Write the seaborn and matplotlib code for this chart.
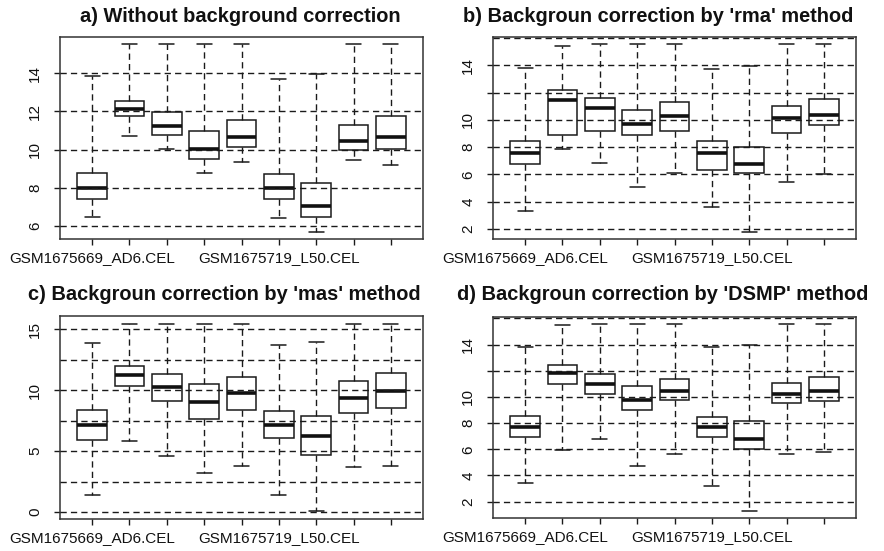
import numpy as np
import pandas as pd
import matplotlib
matplotlib.use("Agg")
import matplotlib.pyplot as plt
import seaborn as sns

# ---------------- data ----------------
samples = [f"S{i}" for i in range(1, 10)]
tick_labels = ["GSM1675669_AD6.CEL", "", "", "", "", "GSM1675719_L50.CEL", "", "", ""]

titles = ["a) Without background correction",
          "b) Backgroun correction by 'rma' method",
          "c) Backgroun correction by 'mas' method",
          "d) Backgroun correction by 'DSMP' method"]

# panel a: whisker low, Q1, median, Q3, whisker high
a_lo = [6.50, 10.71, 10.03, 8.78, 9.37, 6.45, 5.72, 9.43, 9.17]
a_q1 = [7.44, 11.74, 10.78, 9.53, 10.14, 7.44, 6.47, 10.00, 10.05]
a_med = [7.97, 12.12, 11.23, 10.03, 10.68, 7.97, 7.07, 10.45, 10.68]
a_q3 = [8.78, 12.56, 11.95, 10.99, 11.57, 8.70, 8.27, 11.27, 11.77]
a_hi = [13.86, 15.49, 15.49, 15.49, 15.49, 13.70, 13.93, 15.49, 15.49]

# panel b
b_lo = [3.31, 7.84, 6.82, 5.07, 6.11, 3.61, 1.80, 5.46, 6.04]
b_q1 = [6.72, 8.86, 9.20, 8.86, 9.20, 6.33, 6.06, 9.03, 9.59]
b_med = [7.60, 11.49, 10.88, 9.67, 10.30, 7.55, 6.75, 10.13, 10.37]
b_q3 = [8.45, 12.22, 11.61, 10.74, 11.30, 8.43, 8.04, 11.01, 11.52]
b_hi = [13.83, 15.39, 15.53, 15.53, 15.53, 13.71, 13.95, 15.53, 15.53]

# panel c
c_lo = [1.37, 5.85, 4.59, 3.22, 3.80, 1.37, 0.05, 3.69, 3.74]
c_q1 = [5.93, 10.33, 9.10, 7.62, 8.36, 6.09, 4.70, 8.09, 8.50]
c_med = [7.16, 11.20, 10.25, 9.04, 9.73, 7.16, 6.20, 9.34, 9.92]
c_q3 = [8.36, 11.94, 11.34, 10.52, 11.04, 8.28, 7.90, 10.74, 11.39]
c_hi = [13.82, 15.45, 15.45, 15.45, 15.45, 13.66, 13.91, 15.45, 15.45]

# panel d
d_lo = [3.41, 5.96, 6.77, 4.75, 5.61, 3.16, 1.32, 5.66, 5.83]
d_q1 = [6.94, 11.00, 10.19, 9.01, 9.77, 6.94, 6.06, 9.51, 9.69]
d_med = [7.67, 11.81, 10.97, 9.74, 10.45, 7.67, 6.82, 10.19, 10.45]
d_q3 = [8.55, 12.41, 11.73, 10.80, 11.38, 8.50, 8.13, 11.03, 11.55]
d_hi = [13.85, 15.49, 15.54, 15.54, 15.54, 13.80, 13.95, 15.54, 15.54]

grid_a = [6, 8, 10, 12, 14]
grid_b = [2, 4, 6, 8, 10, 12, 14, 16]
grid_c = [0, 2.5, 5, 7.5, 10, 12.5, 15]
grid_d = [2, 4, 6, 8, 10, 12, 14, 16]

ticks_a = [6, 8, 10, 12, 14]
ticklab_a = ["6", "8", "10", "12", "14"]
ticks_b = [2, 4, 6, 8, 10, 12, 14]
ticklab_b = ["2", "4", "6", "8", "10", "", "14"]
ticks_c = [0, 5, 10, 15]
ticklab_c = ["0", "5", "10", "15"]
ticks_d = [2, 4, 6, 8, 10, 12, 14]
ticklab_d = ["2", "4", "6", "8", "10", "", "14"]

panels = [
    (a_lo, a_q1, a_med, a_q3, a_hi, grid_a, ticks_a, ticklab_a),
    (b_lo, b_q1, b_med, b_q3, b_hi, grid_b, ticks_b, ticklab_b),
    (c_lo, c_q1, c_med, c_q3, c_hi, grid_c, ticks_c, ticklab_c),
    (d_lo, d_q1, d_med, d_q3, d_hi, grid_d, ticks_d, ticklab_d),
]

# ---------------- figure ----------------
sns.set_theme(style="white")
plt.rcParams["font.family"] = ["Liberation Sans", "DejaVu Sans"]

W, H = 884, 551
fig = plt.figure(figsize=(W / 100, H / 100), dpi=100)
fig.patch.set_facecolor("white")

# axes boxes in pixels: left, top, right, bottom
boxes_px = [(60, 37, 423, 239), (493, 37, 856, 239),
            (60, 316, 423, 519), (493, 317, 856, 518)]
title_pos = [(240, 17), (658, 17), (224, 295), (663, 295)]

line_col = "#1a1a1a"
dash = (0, (4.5, 3))

for (lo, q1, med, q3, hi, grid, ticks, ticklab), (l, t, r, b), (tx, ty), title in zip(
        panels, boxes_px, title_pos, titles):
    ax = fig.add_axes([l / W, 1 - b / H, (r - l) / W, (b - t) / H])
    rows = []
    for s, v0, v1, v2, v3, v4 in zip(samples, lo, q1, med, q3, hi):
        for v in (v0, v1, v2, v3, v4):
            rows.append({"sample": s, "value": v})
    df = pd.DataFrame(rows)
    sns.boxplot(data=df, x="sample", y="value", order=samples, ax=ax,
                whis=(0, 100), width=0.8, color="white", linecolor=line_col,
                linewidth=1.1, showfliers=False,
                medianprops={"linewidth": 2.6, "color": "#111111"},
                whiskerprops={"linestyle": dash, "linewidth": 1.0},
                capprops={"linewidth": 1.1},
                boxprops={"zorder": 2})
    for g in grid:
        ax.axhline(g, color=line_col, linestyle=dash, linewidth=1.0, zorder=3)
    allv = lo + hi
    rng = max(allv) - min(allv)
    ax.set_ylim(min(allv) - 0.04 * rng, max(allv) + 0.04 * rng)
    ax.set_xlim(-0.86, 8.86)
    ax.set_xticks(range(len(samples)))
    ax.set_xticklabels(tick_labels, fontsize=11, color="#111111")
    ax.set_yticks(ticks)
    ax.set_yticklabels(ticklab, fontsize=11, color="#111111",
                       rotation=90, va="center")
    ax.set_xlabel("")
    ax.set_ylabel("")
    ax.tick_params(axis="both", which="both", direction="out", length=4.3,
                   width=1.0, color=line_col, bottom=True, left=True)
    ax.tick_params(axis="x", pad=4.0)
    ax.tick_params(axis="y", pad=8.5)
    for sp in ax.spines.values():
        sp.set_visible(True)
        sp.set_color("#333333")
        sp.set_linewidth(1.1)
    ax.set_facecolor("white")
    fig.text(tx / W, 1 - ty / H, title, ha="center", va="center",
             fontsize=14.4, fontweight="bold", color="#111111")

fig.savefig("out.png", dpi=100, facecolor="white")
